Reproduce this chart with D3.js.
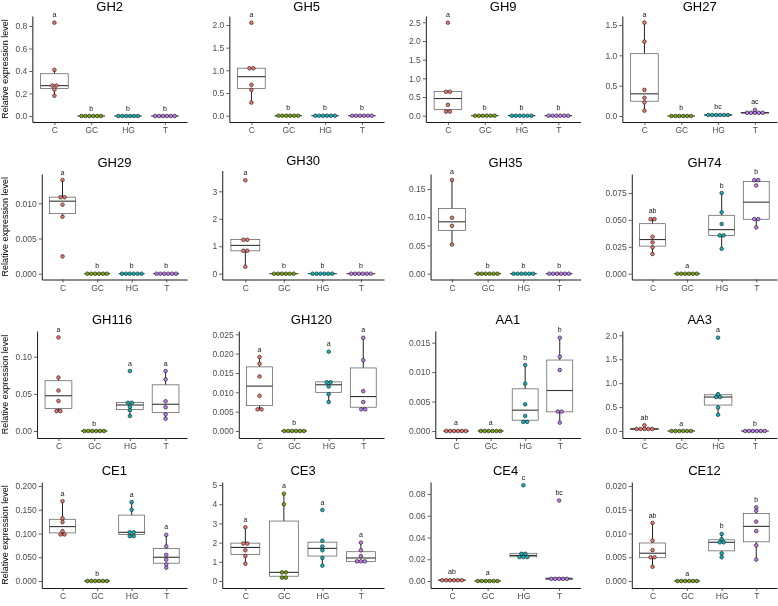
<!DOCTYPE html>
<html><head><meta charset="utf-8">
<script src="https://cdn.jsdelivr.net/npm/d3@7"></script>
<style>body{margin:0;background:#fff}svg{display:block;will-change:transform}text{font-family:"Liberation Sans",Arial,Helvetica,sans-serif}</style>
</head><body><svg id="chart" width="778" height="606"></svg>
<script>
// ---------- data ----------
const groups = ["C", "GC", "HG", "T"];
const groupColors = ["#F8766D", "#7CAE00", "#00BFC4", "#C77CFF"];
const genes = ["GH2","GH5","GH9","GH27","GH29","GH30","GH35","GH74","GH116","GH120","AA1","AA3","CE1","CE3","CE4","CE12"];
const Z = [0,0,0,0,0,0];

const GH2   = [[0.83,0.41,0.272,0.268,0.235,0.18], Z, Z, Z];
const GH5   = [[2.05,1.05,1.04,0.68,0.57,0.29], Z, Z, Z];
const GH9   = [[2.49,0.65,0.63,0.29,0.12,0.10], Z, Z, Z];
const GH27  = [[1.54,1.225,0.43,0.30,0.225,0.088], Z, [0.02,0.02,0.018,0.015,0.015,0.012], [0.10,0.06,0.055,0.05,0.05,0.045]];
const GH29  = [[0.0133,0.0109,0.0108,0.0098,0.0081,0.00246], Z, Z, Z];
const GH30  = [[3.40,1.25,1.22,0.84,0.83,0.255], Z, Z, Z];
const GH35  = [[0.166,0.099,0.0848,0.0516], Z, Z, Z];
const GH74  = [[0.051,0.0505,0.0344,0.0291,0.0245,0.0183], Z, [0.075,0.057,0.0462,0.0357,0.0355,0.0232], [0.0872,0.0868,0.082,0.051,0.0505,0.043]];
const GH116 = [[0.126,0.072,0.0545,0.0404,0.027,0.0265], Z, [0.0807,0.0385,0.0375,0.0325,0.028,0.0202], [0.0807,0.0695,0.040,0.032,0.0224,0.0166]];
const GH120 = [[0.0191,0.0174,0.0141,0.0091,0.0057,0.0055], Z, [0.0205,0.0128,0.0124,0.0115,0.0095,0.0075], [0.0241,0.0183,0.0103,0.0075,0.0057,0.0055]];
const AA1   = [Z, Z, [0.0112,0.00804,0.00453,0.00255,0.0016,0.0015], [0.01585,0.01262,0.01036,0.0034,0.0032,0.00142]];
const AA3   = [[0.12,0.055,0.045,0.04,0.035,0.03], Z, [1.95,0.77,0.72,0.70,0.49,0.34], Z];
const CE1   = [[0.168,0.132,0.124,0.105,0.10,0.096], Z, [0.166,0.15,0.105,0.10,0.097,0.092], [0.097,0.073,0.055,0.045,0.035,0.028]];
const CE3   = [[2.8,2.0,1.9,1.6,1.3,0.9], [4.55,4.0,0.5,0.4,0.2,0.15], [3.7,2.1,1.8,1.6,1.2,0.8], [2.0,1.6,1.3,1.1,1.0,0.95]];
const CE4   = [[0.001,0.001,0.0008,0.0006,0.0005,0.0004], Z, [0.088,0.026,0.024,0.023,0.022,0.021], [0.074,0.003,0.002,0.002,0.0015,0.001]];
const CE12  = [[0.0122,0.0085,0.0065,0.0052,0.0048,0.003], Z, [0.0099,0.0088,0.0083,0.008,0.0058,0.005], [0.0155,0.0148,0.0125,0.0105,0.0075,0.0045]];
const geneValues = [GH2,GH5,GH9,GH27,GH29,GH30,GH35,GH74,GH116,GH120,AA1,AA3,CE1,CE3,CE4,CE12];

const geneLetters = [
  ["a","b","b","b"],["a","b","b","b"],["a","b","b","b"],["a","b","bc","ac"],
  ["a","b","b","b"],["a","b","b","b"],["a","b","b","b"],["ab","a","b","b"],
  ["a","b","a","a"],["a","b","a","a"],["a","a","b","b"],["ab","a","a","b"],
  ["a","b","a","a"],["a","a","a","a"],["ab","a","c","bc"],["ab","a","b","b"]
];

const yTickValues = [
  [0,0.2,0.4,0.6,0.8],[0,0.5,1,1.5,2],[0,0.5,1,1.5,2,2.5],[0,0.5,1,1.5],
  [0,0.005,0.01],[0,1,2,3],[0,0.05,0.1,0.15],[0,0.025,0.05,0.075],
  [0,0.05,0.1],[0,0.005,0.01,0.015,0.02,0.025],[0,0.005,0.01,0.015],[0,0.5,1,1.5,2],
  [0,0.05,0.1,0.15,0.2],[0,1,2,3,4,5],[0,0.02,0.04,0.06,0.08],[0,0.005,0.01,0.015,0.02]
];
const yTickDecimals = [1,1,1,1, 3,0,2,3, 2,3,3,1, 3,0,2,3];
const yDomains = [
  [-0.0533,0.8889],[-0.139,2.198],[-0.169,2.669],[-0.099,1.648],
  [-0.000824,0.01416],[-0.211,3.757],[-0.01027,0.1766],[-0.00539,0.09266],
  [-0.00942,0.1346],[-0.00181,0.02585],[-0.00119,0.01699],[-0.146,2.09],
  [-0.0147,0.2084],[-0.365,5.16],[-0.00644,0.0910],[-0.00147,0.02084]
];

// ---------- layout ----------
const W = 778, H = 606;
const colRight = [187, 384, 580.5, 777];
const panelTop = [16,16,16,16, 174,170.5,174,174, 331,331,331,331, 482,482,482,482];
const rowBottom = [122, 279.5, 438, 588];
const titleBase = [11,11,11,11, 167,164.7,167,167, 324.3,324.3,324.3,324.3, 475,475,475,475];

const svg = d3.select("#chart");
svg.append("rect").attr("width", W).attr("height", H).attr("fill", "#fff");

const tickFont = 8.5;
const measurer = svg.append("text").attr("font-size", tickFont).attr("visibility", "hidden");
function textW(s) { measurer.text(s); return measurer.node().getComputedTextLength(); }

function boxStats(vals) {
  const s = vals.slice().sort(d3.ascending);
  const q1 = d3.quantile(s, 0.25), med = d3.quantile(s, 0.5), q3 = d3.quantile(s, 0.75);
  const iqr = q3 - q1;
  const lo = d3.min(s.filter(v => v >= q1 - 1.5 * iqr));
  const hi = d3.max(s.filter(v => v <= q3 + 1.5 * iqr));
  return {q1, med, q3, lo, hi};
}

function dotBins(vals, y, thr) {
  const s = vals.slice().sort(d3.ascending);
  const bins = [];
  let cur = null;
  s.forEach(v => {
    if (cur && Math.abs(y(v) - y(cur.start)) < thr) { cur.items.push(v); }
    else { cur = {start: v, items: [v]}; bins.push(cur); }
  });
  bins.forEach(b => { b.center = (d3.min(b.items) + d3.max(b.items)) / 2; });
  return bins;
}

genes.forEach((gene, gi) => {
  const row = Math.floor(gi / 4), col = gi % 4;
  const right = colRight[col];
  const origin = right - 187;
  const decimals = yTickDecimals[gi];
  const labels = yTickValues[gi].map(v => v.toFixed(decimals));
  const maxW = d3.max(labels, textW);
  const left = origin + 20.5 + maxW;
  const top = panelTop[gi], bottom = rowBottom[row];

  const y = d3.scaleLinear().domain(yDomains[gi]).range([bottom, top]);
  const x = d3.scalePoint().domain(groups).range([left, right]).padding(0.6);
  const step = x.step();
  const g = svg.append("g");

  g.append("text").attr("x", (left + right) / 2).attr("y", titleBase[gi])
    .attr("text-anchor", "middle").attr("font-size", 13).attr("fill", "#000").text(gene);

  const ya = g.append("g").attr("transform", `translate(${left},0)`)
    .call(d3.axisLeft(y).tickValues(yTickValues[gi]).tickFormat((d, i) => labels[i]).tickSize(3).tickSizeOuter(0).tickPadding(2));
  const xa = g.append("g").attr("transform", `translate(0,${bottom})`)
    .call(d3.axisBottom(x).tickSize(3).tickSizeOuter(0).tickPadding(2));
  [ya, xa].forEach(a => {
    a.select(".domain").attr("stroke", "#000").attr("stroke-width", 0.9);
    a.selectAll(".tick line").attr("stroke", "#333").attr("stroke-width", 0.8);
    a.selectAll(".tick text").attr("fill", "#4D4D4D").attr("font-size", tickFont).attr("font-family", "Liberation Sans, Arial, sans-serif");
  });

  if (col === 0) {
    g.append("text").attr("transform", `translate(7.6,${(top + bottom) / 2}) rotate(-90)`)
      .attr("text-anchor", "middle").attr("font-size", 9).attr("fill", "#000").text("Relative expression level");
  }

  const bw = step * 0.75;
  geneValues[gi].forEach((vals, k) => {
    const cx = x(groups[k]);
    const st = boxStats(vals);
    g.append("line").attr("x1", cx).attr("x2", cx).attr("y1", y(st.q3)).attr("y2", y(st.hi)).attr("stroke", "#222").attr("stroke-width", 1);
    g.append("line").attr("x1", cx).attr("x2", cx).attr("y1", y(st.q1)).attr("y2", y(st.lo)).attr("stroke", "#222").attr("stroke-width", 1);
    g.append("rect").attr("x", cx - bw / 2).attr("y", y(st.q3)).attr("width", bw)
      .attr("height", Math.max(0, y(st.q1) - y(st.q3))).attr("fill", "#fff").attr("stroke", "#555").attr("stroke-width", 0.7);
    g.append("line").attr("x1", cx - bw / 2).attr("x2", cx + bw / 2).attr("y1", y(st.med)).attr("y2", y(st.med))
      .attr("stroke", "#333").attr("stroke-width", 1.1);
    const bins = dotBins(vals, y, 3.2);
    const sp = 3.9;
    bins.forEach(b => {
      const n = b.items.length;
      for (let j = 0; j < n; j++) {
        g.append("circle").attr("cx", cx + (j - (n - 1) / 2) * sp).attr("cy", y(b.center)).attr("r", 1.8)
          .attr("fill", groupColors[k]).attr("stroke", "#222").attr("stroke-width", 0.7);
      }
    });
    g.append("text").attr("x", cx).attr("y", y(d3.max(vals)) - 5.5).attr("text-anchor", "middle")
      .attr("font-size", 7).attr("fill", "#111").text(geneLetters[gi][k]);
  });
});
measurer.remove();
</script></body></html>
